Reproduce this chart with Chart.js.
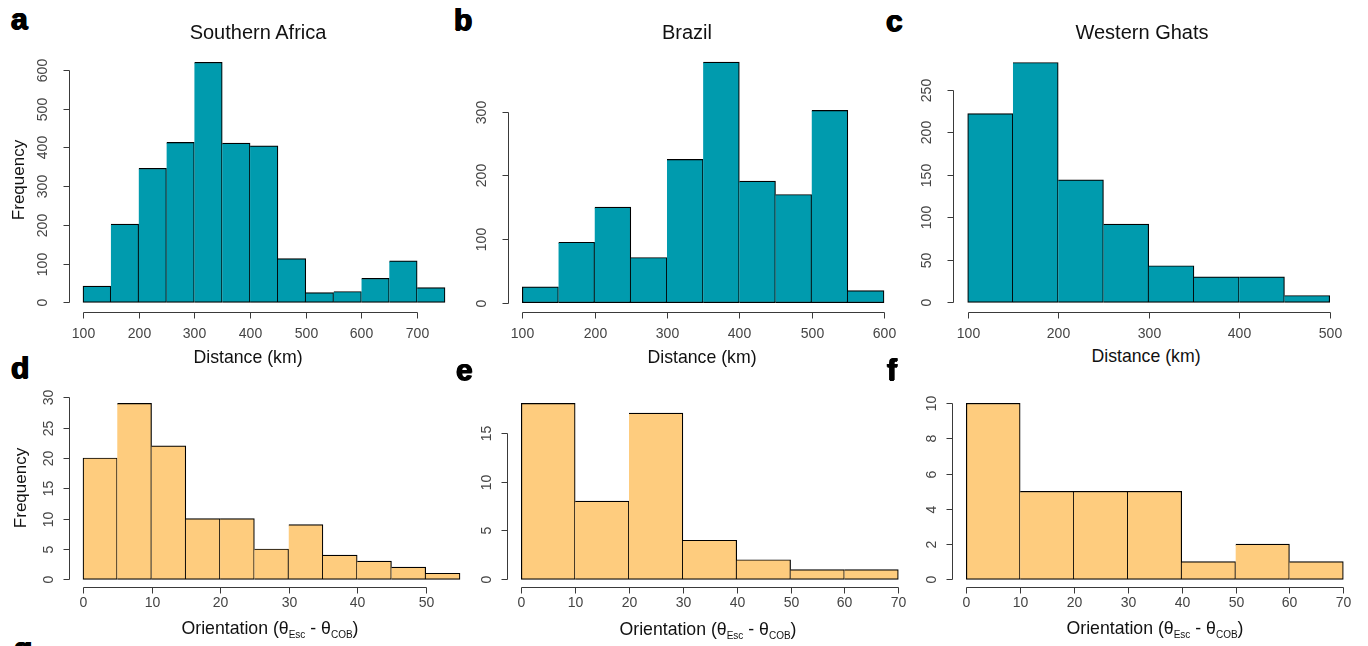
<!DOCTYPE html>
<html lang="en">
<head>
    <meta charset="UTF-8">
    <title>Escarpment distance and orientation histograms</title>
    <script src="https://cdn.jsdelivr.net/npm/chart.js@4.4.1/dist/chart.umd.min.js"></script>
    <style>
        body {
            margin: 0;
            background: #fff;
            font-family: 'Liberation Sans', Helvetica, Arial, sans-serif;
        }
        #fig {
            position: relative;
            width: 1368px;
            height: 646px;
            overflow: hidden;
            background: #fff;
        }
        .cell { position: absolute; }
        .txt {
            position: absolute;
            white-space: nowrap;
            color: #111;
            transform: translate(-50%, -50%);
            line-height: 1;
        }
        .title { font-size: 20px; }
        .axt { font-size: 17.7px; }
        .axt sub { font-size: 10px; vertical-align: -4px; }
        .ylab { font-size: 17px; transform: translate(-50%, -50%) rotate(-90deg); }
        .letter {
            position: absolute;
            font-size: 30px;
            font-weight: bold;
            line-height: 30px;
            color: #000;
            text-shadow: 0.7px 0 0 #000, -0.7px 0 0 #000, 0 0.5px 0 #000;
        }
    </style>
</head>
<body>
<div id="fig">
    <div class="letter" style="left:11px;top:4px">a</div>
    <div class="letter" style="left:454px;top:5px">b</div>
    <div class="letter" style="left:886px;top:6px">c</div>
    <div class="letter" style="left:11px;top:353px">d</div>
    <div class="letter" style="left:456px;top:355px">e</div>
    <div class="letter" style="left:887px;top:355px">f</div>
    <div class="letter" style="left:14px;top:633px">g</div>

    <div class="txt title" style="left:258px;top:32px">Southern Africa</div>
    <div class="txt title" style="left:687px;top:32px">Brazil</div>
    <div class="txt title" style="left:1142px;top:32px">Western Ghats</div>

    <div class="txt axt" style="left:248px;top:358px">Distance (km)</div>
    <div class="txt axt" style="left:702px;top:358px">Distance (km)</div>
    <div class="txt axt" style="left:1146px;top:357px">Distance (km)</div>

    <div class="txt axt" style="left:270px;top:630px">Orientation (θ<sub>Esc</sub> - θ<sub>COB</sub>)</div>
    <div class="txt axt" style="left:708px;top:631px">Orientation (θ<sub>Esc</sub> - θ<sub>COB</sub>)</div>
    <div class="txt axt" style="left:1155px;top:630px">Orientation (θ<sub>Esc</sub> - θ<sub>COB</sub>)</div>

    <div class="txt ylab" style="left:18px;top:180px">Frequency</div>
    <div class="txt ylab" style="left:20px;top:488px">Frequency</div>
</div>

<script>
// ---- data ----
// distance histograms (km), bin width 50
const saBins = [100, 150, 200, 250, 300, 350, 400, 450, 500, 550, 600, 650, 700];
const saCounts = [42, 202, 346, 413, 620, 411, 404, 113, 25, 28, 62, 107, 38];
const brBins = [100, 150, 200, 250, 300, 350, 400, 450, 500, 550];
const brCounts = [25, 95, 150, 71, 225, 378, 191, 170, 302, 19];
const wgBins = [100, 150, 200, 250, 300, 350, 400, 450];
const wgCounts = [222, 282, 144, 92, 43, 30, 30, 8];

// orientation histograms (degrees)
const saOriBins = [0, 5, 10, 15, 20, 25, 30, 35, 40, 45, 50];
const saOriCounts = [20, 29, 22, 10, 10, 5, 9, 4, 3, 2, 1];
const brOriBins = [0, 10, 20, 30, 40, 50, 60];
const brOriCounts = [18, 8, 17, 4, 2, 1, 1];
const wgOriBins = [0, 10, 20, 30, 40, 50, 60];
const wgOriCounts = [10, 5, 5, 5, 1, 2, 1];

// tick labels
const saXTicks = [100, 200, 300, 400, 500, 600, 700];
const saYTicks = [0, 100, 200, 300, 400, 500, 600];
const brXTicks = [100, 200, 300, 400, 500, 600];
const brYTicks = [0, 100, 200, 300];
const wgXTicks = [100, 200, 300, 400, 500];
const wgYTicks = [0, 50, 100, 150, 200, 250];
const saOriXTicks = [0, 10, 20, 30, 40, 50];
const saOriYTicks = [0, 5, 10, 15, 20, 25, 30];
const oriXTicks = [0, 10, 20, 30, 40, 50, 60, 70];
const brOriYTicks = [0, 5, 10, 15];
const wgOriYTicks = [0, 2, 4, 6, 8, 10];

const TEAL = '#009bae';
const ORANGE = '#fecc7e';

// R style axes: detached from the bars, only spanning the tick range
const rAxes = {
    id: 'rAxes',
    afterDraw(chart, args, o) {
        const ctx = chart.ctx;
        const xs = chart.scales.x, ys = chart.scales.y, area = chart.chartArea;
        ctx.save();
        ctx.strokeStyle = '#3a3a3a';
        ctx.fillStyle = '#444';
        ctx.lineWidth = 1;
        ctx.font = o.fontSize + 'px "Liberation Sans", Helvetica, Arial, sans-serif';

        // x axis
        const ay = Math.round(area.bottom + o.xGap) + 0.5;
        const px = o.xTicks.map(v => Math.round(xs.getPixelForValue(v)) + 0.5);
        ctx.beginPath();
        ctx.moveTo(px[0], ay);
        ctx.lineTo(px[px.length - 1], ay);
        px.forEach(p => { ctx.moveTo(p, ay); ctx.lineTo(p, ay + 6); });
        ctx.stroke();
        ctx.textAlign = 'center';
        ctx.textBaseline = 'middle';
        o.xTicks.forEach((v, i) => ctx.fillText(String(v), px[i], ay + o.xLabel));

        // y axis
        const ax = Math.round(area.left - o.yGap) + 0.5;
        const py = o.yTicks.map(v => Math.round(ys.getPixelForValue(v)) + 0.5);
        ctx.beginPath();
        ctx.moveTo(ax, py[0]);
        ctx.lineTo(ax, py[py.length - 1]);
        py.forEach(p => { ctx.moveTo(ax, p); ctx.lineTo(ax - 6, p); });
        ctx.stroke();
        o.yTicks.forEach((v, i) => {
            ctx.save();
            ctx.translate(ax - o.yLabel, py[i]);
            ctx.rotate(-Math.PI / 2);
            ctx.fillText(String(v), 0, 0);
            ctx.restore();
        });
        ctx.restore();
    }
};

// cells on the page and the data rectangles inside them (page pixels)
const cols = [{ left: 0, width: 464 }, { left: 464, width: 451 }, { left: 915, width: 453 }];
const rows = [{ top: 40, height: 305 }, { top: 385, height: 240 }];

const panels = [
    { col: 0, row: 0, bins: saBins, counts: saCounts, bw: 50, color: TEAL,
      xMin: 100, xMax: 750, yMax: 600, xTicks: saXTicks, yTicks: saYTicks,
      rect: { l: 83, r: 445, t: 70, b: 302.3 } },
    { col: 1, row: 0, bins: brBins, counts: brCounts, bw: 50, color: TEAL,
      xMin: 100, xMax: 600, yMax: 300, xTicks: brXTicks, yTicks: brYTicks,
      rect: { l: 522.3, r: 884, t: 111.7, b: 302.7 } },
    { col: 2, row: 0, bins: wgBins, counts: wgCounts, bw: 50, color: TEAL,
      xMin: 100, xMax: 500, yMax: 250, xTicks: wgXTicks, yTicks: wgYTicks,
      rect: { l: 967.7, r: 1329.7, t: 89.7, b: 302.3 } },
    { col: 0, row: 1, bins: saOriBins, counts: saOriCounts, bw: 5, color: ORANGE,
      xMin: 0, xMax: 55, yMax: 30, xTicks: saOriXTicks, yTicks: saOriYTicks,
      rect: { l: 83, r: 460, t: 397.3, b: 579.3 } },
    { col: 1, row: 1, bins: brOriBins, counts: brOriCounts, bw: 10, color: ORANGE,
      xMin: 0, xMax: 70, yMax: 15, xTicks: oriXTicks, yTicks: brOriYTicks,
      rect: { l: 521.3, r: 898.3, t: 432.7, b: 579.3 } },
    { col: 2, row: 1, bins: wgOriBins, counts: wgOriCounts, bw: 10, color: ORANGE,
      xMin: 0, xMax: 70, yMax: 10, xTicks: oriXTicks, yTicks: wgOriYTicks,
      rect: { l: 966.3, r: 1343.3, t: 403.3, b: 579.3 } }
];

const fig = document.getElementById('fig');

panels.forEach(p => {
    const c = cols[p.col], r = rows[p.row];
    const wrap = document.createElement('div');
    wrap.className = 'cell';
    wrap.style.left = c.left + 'px';
    wrap.style.top = r.top + 'px';
    const canvas = document.createElement('canvas');
    canvas.width = c.width;
    canvas.height = r.height;
    wrap.appendChild(canvas);
    fig.insertBefore(wrap, fig.firstChild);

    const top = p.row === 0;
    new Chart(canvas.getContext('2d'), {
        type: 'bar',
        data: {
            datasets: [{
                data: p.bins.map((b, i) => ({ x: b + p.bw / 2, y: p.counts[i] })),
                backgroundColor: p.color,
                borderColor: '#000',
                borderWidth: 1.2,
                // skip left edge so neighbouring bars share one line
                borderSkipped: ctx => ctx.dataIndex === 0 ? false : 'left',
                barPercentage: 1,
                categoryPercentage: 1,
                clip: false
            }]
        },
        options: {
            responsive: false,
            animation: false,
            layout: {
                padding: {
                    left: p.rect.l - c.left,
                    right: c.left + c.width - p.rect.r,
                    top: p.rect.t - r.top,
                    bottom: r.top + r.height - p.rect.b
                }
            },
            scales: {
                x: { type: 'linear', min: p.xMin, max: p.xMax, offset: false, display: false,
                     ticks: { stepSize: p.bw } },
                y: { type: 'linear', min: 0, max: p.yMax, display: false }
            },
            plugins: {
                legend: { display: false },
                tooltip: { enabled: false },
                rAxes: {
                    xTicks: p.xTicks, yTicks: p.yTicks,
                    xGap: top ? 9.7 : 7.4,
                    yGap: 14.5,
                    xLabel: top ? 21.5 : 16,
                    yLabel: top ? 26 : 20.5,
                    fontSize: 14
                }
            }
        },
        plugins: [rAxes]
    });
});
</script>
</body>
</html>
